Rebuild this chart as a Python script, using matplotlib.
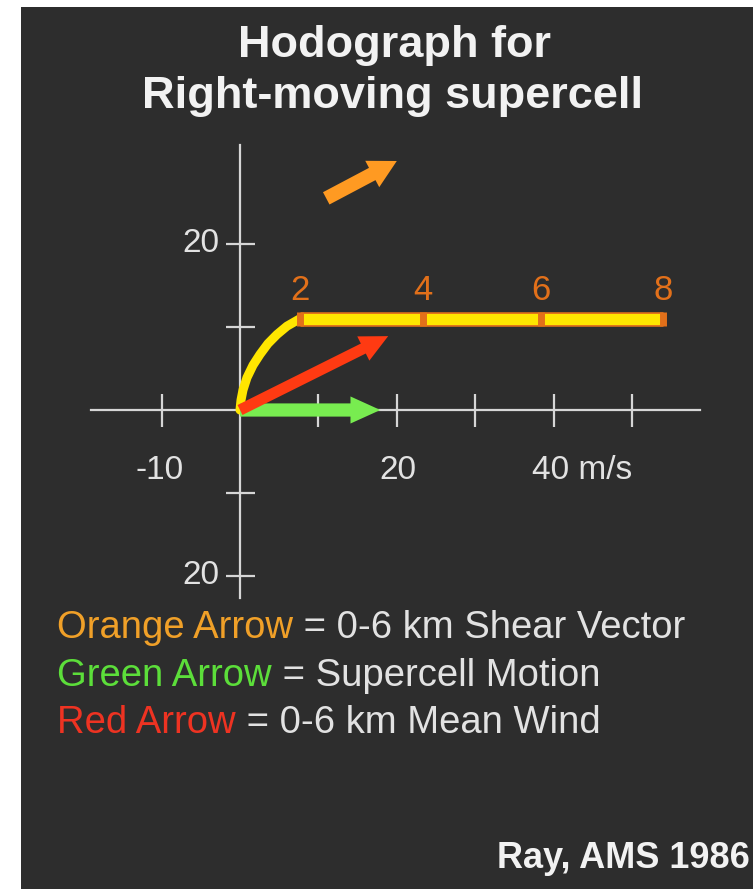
import matplotlib
matplotlib.use("Agg")
from matplotlib import pyplot as plt
from matplotlib.patches import Rectangle

# hodograph points (u, v in m/s), knots labelled by height in km
hodo_u = [0, 0.13, 0.38, 0.89, 1.66, 2.55, 3.57, 4.72, 5.99, 7.65, 23.3, 38.4, 54.0]
hodo_v = [0, 1.2, 2.4, 3.9, 5.4, 6.7, 8.0, 9.1, 10.1, 11.0, 11.0, 11.0, 11.0]
knot_labels = ['2', '4', '6', '8']
knot_u = [7.65, 23.3, 38.4, 54.0]
knot_v = [11.0, 11.0, 11.0, 11.0]

mean_wind = (18.9, 8.9)
storm_motion = (17.9, 0.0)
shear_tail = (11.0, 25.5)
shear_tip = (20.0, 30.0)

xticks = [-10, 10, 20, 30, 40, 50]
yticks = [20, 10, -10, -20]

legend_names = ['Orange Arrow', 'Green Arrow', 'Red Arrow']
legend_desc = [' = 0-6 km Shear Vector', ' = Supercell Motion', ' = 0-6 km Mean Wind']

bg = '#2d2d2d'
axcol = '#d6d6d6'
txt = '#e2e2e2'
yellow = '#ffe600'
knotcol = '#e2701a'
red = '#ff3a12'
green = '#78ec50'
orange = '#ff9a22'
legend_cols = ['#f0a028', '#5cde3a', '#ee3322']

W, H = 753, 889
sans = ['Liberation Sans', 'DejaVu Sans']

fig = plt.figure(figsize=(W / 100, H / 100), dpi=100)
fig.patch.set_facecolor('white')
fig.patches.append(Rectangle((21 / W, 0), 1 - 21 / W, 1 - 7 / H, transform=fig.transFigure,
                             facecolor=bg, edgecolor='none', zorder=-5))

ax = fig.add_axes([0, 0, 1, 1])
ax.patch.set_visible(False)
ax.axis('off')
# origin sits at pixel (240, 410), 7.84 px per m/s across, 8.3 px per m/s up
ax.set_xlim(-240 / 7.84, (W - 240) / 7.84)
ax.set_ylim((410 - H) / 8.3, 410 / 8.3)

# axes cross
ax.plot([-19, 58.7], [0, 0], color=axcol, lw=1.6, zorder=1)
ax.plot([0, 0], [-22.6, 31.9], color=axcol, lw=1.6, zorder=1)
ax.vlines(xticks, -2.1, 1.9, color=axcol, lw=1.6, zorder=1)
ax.hlines(yticks, -1.8, 1.9, color=axcol, lw=1.6, zorder=1)

ax.text(-10.3, -8.3, '-10', color=txt, fontsize=24, family=sans, ha='center', va='baseline')
ax.text(20.2, -8.3, '20', color=txt, fontsize=24, family=sans, ha='center', va='baseline')
ax.text(37.3, -8.3, '40 m/s', color=txt, fontsize=24, family=sans, ha='left', va='baseline')
ax.text(-2.6, 20, '20', color=txt, fontsize=24, family=sans, ha='right', va='center')
ax.text(-2.6, -20, '20', color=txt, fontsize=24, family=sans, ha='right', va='center')

# hodograph
ax.plot(hodo_u[:10], hodo_v[:10], color=yellow, lw=6.5, solid_capstyle='round',
        solid_joinstyle='round', zorder=3)
ax.plot(hodo_u[9:], hodo_v[9:], color=knotcol, lw=10.5, solid_capstyle='butt', zorder=3)
ax.plot(hodo_u[9:], hodo_v[9:], color=yellow, lw=8, solid_capstyle='butt', zorder=4)
ax.plot(knot_u, knot_v, ls='none', marker='|', ms=10.5, mew=5, color=knotcol, zorder=5)
for lab, u, v in zip(knot_labels, knot_u, knot_v):
    ax.text(u, v + 2.2, lab, color=knotcol, fontsize=25, family=sans, ha='center', va='baseline')

# arrows
ax.annotate('', xy=storm_motion, xytext=(0, 0), zorder=6,
            arrowprops=dict(arrowstyle='simple,head_length=2.15,head_width=1.95,tail_width=0.95',
                            mutation_scale=10, color=green, shrinkA=0, shrinkB=0, lw=0))
ax.annotate('', xy=mean_wind, xytext=(0, 0), zorder=6,
            arrowprops=dict(arrowstyle='simple,head_length=2.0,head_width=1.95,tail_width=0.8',
                            mutation_scale=10, color=red, shrinkA=0, shrinkB=0, lw=0))
ax.annotate('', xy=shear_tip, xytext=shear_tail, zorder=6,
            arrowprops=dict(arrowstyle='simple,head_length=2.0,head_width=2.15,tail_width=1.0',
                            mutation_scale=10, color=orange, shrinkA=0, shrinkB=0, lw=0))

# title
fig.text(395 / W, 1 - 57 / H, 'Hodograph for', color='#f2f2f2', fontsize=32.5, family=sans,
         weight='bold', ha='center', va='baseline')
fig.text(393 / W, 1 - 108 / H, 'Right-moving supercell', color='#f2f2f2', fontsize=32.5,
         family=sans, weight='bold', ha='center', va='baseline')

# legend
baselines = [638, 686, 733]
for name, desc, col, yb in zip(legend_names, legend_desc, legend_cols, baselines):
    t = fig.text(57 / W, 1 - yb / H, name, color=col, fontsize=27.5, family=sans, va='baseline')
    ax.annotate(desc, xy=(1, 0), xycoords=t, color=txt, fontsize=27.5, family=sans,
                ha='left', va='bottom')

fig.text(497 / W, 1 - 868 / H, 'Ray, AMS 1986', color='#f2f2f2', fontsize=26, family=sans,
         weight='bold', ha='left', va='baseline')

fig.savefig('out.png', dpi=100, facecolor=fig.get_facecolor())
